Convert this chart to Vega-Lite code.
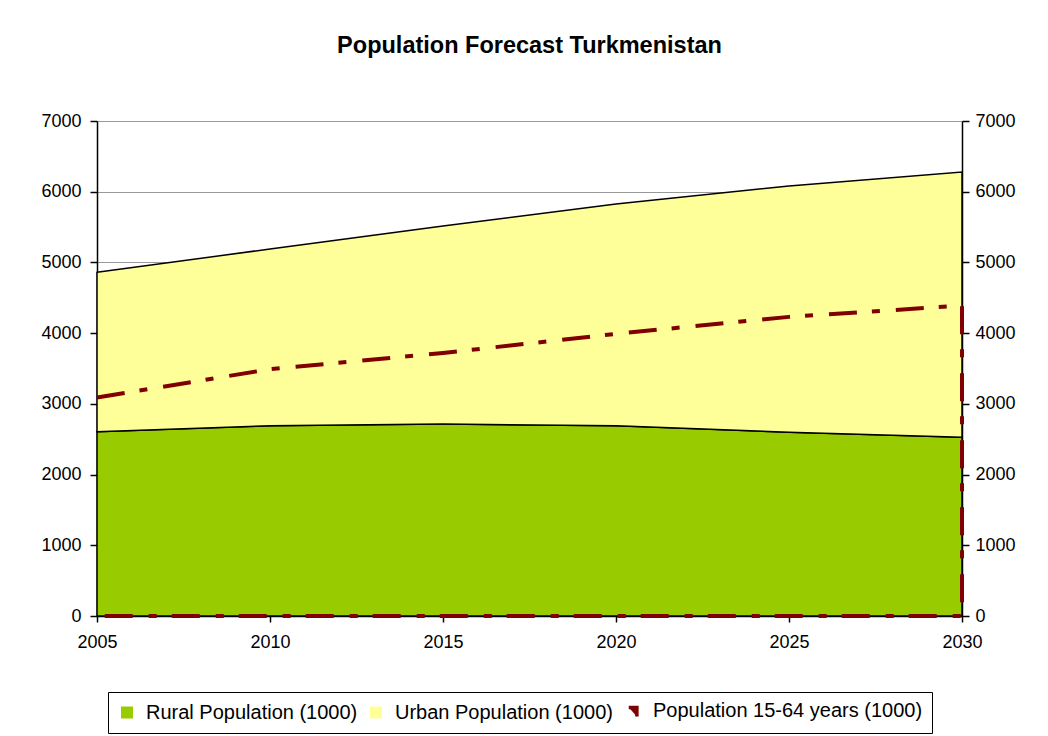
{
  "$schema": "https://vega.github.io/schema/vega-lite/v6.json",
  "width": 865,
  "height": 495,
  "autosize": "none",
  "padding": {"left": 97, "top": 121, "right": 86, "bottom": 120},
  "background": "white",
  "title": {"text": "Population Forecast Turkmenistan", "font": "Liberation Sans", "fontSize": 23.5, "fontWeight": "bold", "color": "black", "anchor": "middle", "offset": 55},
  "config": {
    "view": {"stroke": null},
    "axis": {"labelFont": "Liberation Sans", "labelFontSize": 18, "labelColor": "black", "domainColor": "black", "domainWidth": 1.5, "tickColor": "black", "tickWidth": 1.5, "tickSize": 7, "title": null}
  },
  "datasets": {
    "pop": [
      {"year": 2005, "series": "Rural Population (1000)", "order": 1, "value": 2606},
      {"year": 2010, "series": "Rural Population (1000)", "order": 1, "value": 2691},
      {"year": 2015, "series": "Rural Population (1000)", "order": 1, "value": 2715},
      {"year": 2020, "series": "Rural Population (1000)", "order": 1, "value": 2691},
      {"year": 2025, "series": "Rural Population (1000)", "order": 1, "value": 2598},
      {"year": 2030, "series": "Rural Population (1000)", "order": 1, "value": 2527},
      {"year": 2005, "series": "Urban Population (1000)", "order": 2, "value": 2254},
      {"year": 2010, "series": "Urban Population (1000)", "order": 2, "value": 2499},
      {"year": 2015, "series": "Urban Population (1000)", "order": 2, "value": 2800},
      {"year": 2020, "series": "Urban Population (1000)", "order": 2, "value": 3135},
      {"year": 2025, "series": "Urban Population (1000)", "order": 2, "value": 3483},
      {"year": 2030, "series": "Urban Population (1000)", "order": 2, "value": 3752}
    ],
    "work": [
      {"pt": 1, "year": 2005, "series": "Population 15-64 years (1000)", "value": 3090},
      {"pt": 2, "year": 2010, "series": "Population 15-64 years (1000)", "value": 3490},
      {"pt": 3, "year": 2015, "series": "Population 15-64 years (1000)", "value": 3720},
      {"pt": 4, "year": 2020, "series": "Population 15-64 years (1000)", "value": 3990},
      {"pt": 5, "year": 2025, "series": "Population 15-64 years (1000)", "value": 4230},
      {"pt": 6, "year": 2030, "series": "Population 15-64 years (1000)", "value": 4390},
      {"pt": 7, "year": 2030, "series": "Population 15-64 years (1000)", "value": 0},
      {"pt": 8, "year": 2005, "series": "Population 15-64 years (1000)", "value": 0}
    ]
  },
  "layer": [
    {
      "data": {"name": "pop"},
      "mark": {"type": "area", "stroke": "black", "strokeWidth": 1.5, "opacity": 1},
      "encoding": {
        "x": {"field": "year", "type": "quantitative", "scale": {"domain": [2005, 2030], "nice": false, "zero": false},
              "axis": {"values": [2005, 2010, 2015, 2020, 2025, 2030], "format": "d", "grid": false, "labelPadding": 11, "tickSize": 6, "labelFlush": false}},
        "y": {"field": "value", "type": "quantitative", "stack": "zero", "scale": {"domain": [0, 7000], "nice": false},
              "axis": {"orient": "left", "values": [0, 1000, 2000, 3000, 4000, 5000, 6000, 7000], "format": "d", "grid": true, "gridColor": "#999999", "gridWidth": 1, "labelPadding": 9}},
        "color": {"field": "series", "type": "nominal",
                  "scale": {"domain": ["Rural Population (1000)", "Urban Population (1000)", "Population 15-64 years (1000)"], "range": ["#99CC00", "#FFFF99", "#800000"]},
                  "legend": {"orient": "none", "legendX": 11, "legendY": 571, "direction": "horizontal", "title": null, "labelFont": "Liberation Sans", "labelFontSize": 20, "labelColor": "black", "labelLimit": 0, "symbolType": "square", "symbolSize": 110, "symbolOpacity": 1, "strokeColor": "black", "padding": 9, "columnPadding": 8, "labelOffset": 9,
                             "encode": {"symbols": {"update": {
                               "shape": {"signal": "datum.value === 'Population 15-64 years (1000)' ? 'M -1 -0.75 L 0.55 -0.75 L 0.55 1' : 'square'"},
                               "stroke": {"signal": "datum.value === 'Population 15-64 years (1000)' ? '#800000' : 'black'"},
                               "fill": {"signal": "datum.value === 'Population 15-64 years (1000)' ? 'transparent' : scale('color', datum.value)"},
                               "strokeWidth": {"signal": "datum.value === 'Population 15-64 years (1000)' ? 3.5 : 1.5"},
                               "strokeOpacity": {"value": 1},
                               "strokeDash": {"value": [1, 0]},
                               "opacity": {"value": 1}
                             }}}}},
        "order": {"field": "order"}
      }
    },
    {
      "data": {"name": "work"},
      "mark": {"type": "line", "stroke": "#800000", "strokeWidth": 4, "strokeDash": [28, 15, 8, 16], "strokeCap": "butt"},
      "encoding": {
        "x": {"field": "year", "type": "quantitative"},
        "y": {"field": "value", "type": "quantitative", "stack": null,
              "axis": {"orient": "right", "values": [0, 1000, 2000, 3000, 4000, 5000, 6000, 7000], "format": "d", "grid": false, "labelPadding": 6}},
        "color": {"field": "series", "type": "nominal",
                  "legend": {"orient": "none", "legendX": 11, "legendY": 571, "direction": "horizontal", "title": null, "labelFont": "Liberation Sans", "labelFontSize": 20, "labelColor": "black", "labelLimit": 0, "symbolType": "square", "symbolSize": 110, "symbolOpacity": 1, "strokeColor": "black", "padding": 9, "columnPadding": 8, "labelOffset": 9,
                             "encode": {"symbols": {"update": {
                               "shape": {"signal": "datum.value === 'Population 15-64 years (1000)' ? 'M -1 -0.75 L 0.55 -0.75 L 0.55 1' : 'square'"},
                               "stroke": {"signal": "datum.value === 'Population 15-64 years (1000)' ? '#800000' : 'black'"},
                               "fill": {"signal": "datum.value === 'Population 15-64 years (1000)' ? 'transparent' : scale('color', datum.value)"},
                               "strokeWidth": {"signal": "datum.value === 'Population 15-64 years (1000)' ? 3.5 : 1.5"},
                               "strokeOpacity": {"value": 1},
                               "strokeDash": {"value": [1, 0]},
                               "opacity": {"value": 1}
                             }}}}},
        "order": {"field": "pt"}
      }
    }
  ],
  "resolve": {"axis": {"y": "independent"}}
}
